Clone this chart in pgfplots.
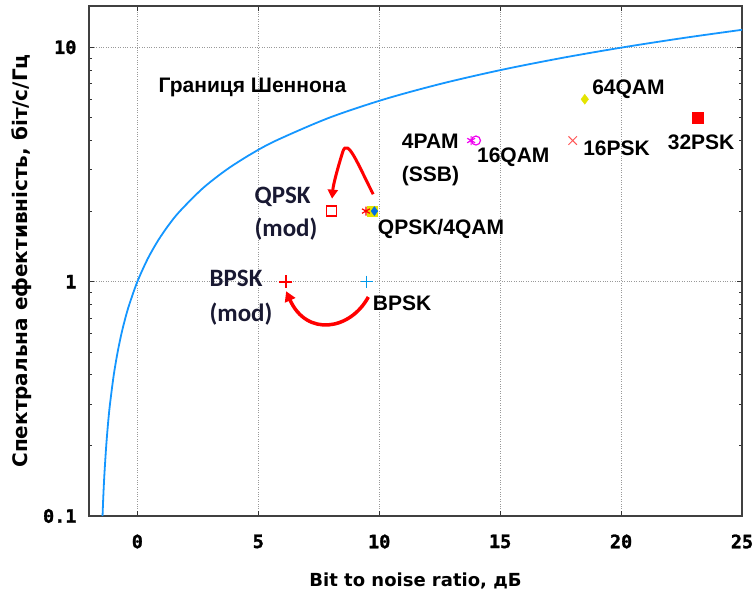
\documentclass[border=0pt]{standalone}
\usepackage{pgfplots}
\pgfplotsset{compat=1.18}
\usepackage{fontspec}
\setmainfont{Liberation Sans}
\newfontfamily\tickfont{DejaVu Sans Mono Bold}[FakeBold=1.5]
\newfontfamily\labfont{DejaVu Sans}[UprightFont={* Bold}]
\newfontfamily\calfont{Carlito}
\usetikzlibrary{arrows.meta}
\definecolor{shblue}{RGB}{20,150,255}
\definecolor{mred}{RGB}{255,0,0}
\definecolor{lred}{RGB}{255,85,85}
\definecolor{mmag}{RGB}{240,0,240}
\definecolor{myel}{RGB}{228,228,0}
\definecolor{mblue}{RGB}{0,110,225}
\definecolor{navy}{RGB}{25,25,50}
\begin{document}
\begin{tikzpicture}
\begin{axis}[
  scale only axis, width=653pt, height=510pt,
  xmin=-2, xmax=25, ymode=log, ymin=0.1, ymax=15,
  xtick={0,5,10,15,20,25}, ytick={0.1,1,10},
  xticklabels={\tickfont 0,\tickfont 5,\tickfont 10,\tickfont 15,\tickfont 20,\tickfont 25},
  yticklabels={\tickfont 0.1,\tickfont 1,\tickfont 10},
  tick label style={font=\fontsize{18.5}{18.5}\tickfont},
  xticklabel style={yshift=-15pt},
  yticklabel style={xshift=-9pt},
  grid=major, major grid style={dotted, gray!80, line width=1pt},
  axis line style={line width=1.3pt, black!75},
  major tick length=5pt, minor tick length=3pt,
  tick style={black!80, line width=0.8pt},
  xlabel={Bit to noise ratio, дБ},
  ylabel={Спектральна ефективність, біт/с/Гц},
  xlabel style={font=\fontsize{18}{18}\labfont, yshift=-17pt},
  ylabel style={font=\fontsize{20}{20}\labfont, yshift=5pt},
  clip=true,
]
\coordinate (ll) at (rel axis cs:0,0);
\coordinate (ur) at (rel axis cs:1,1);
% Shannon bound
\addplot[shblue, line width=1.8pt, smooth] coordinates {
(-1.44,0.1)(-1.410,0.12)(-1.364,0.15)(-1.287,0.2)(-1.210,0.25)(-1.133,0.3)
(-0.976,0.4)(-0.817,0.5)(-0.658,0.6)(-0.496,0.7)(-0.332,0.8)(0,1)
(0.425,1.25)(0.860,1.5)(1.305,1.75)(1.761,2)(2.701,2.5)(3.680,3)(4.693,3.5)
(5.740,4)(7.924,5)(10.212,6)(12.587,7)(15.034,8)(17.542,9)(20.099,10)
(22.697,11)(25.331,12)};
% points
\addplot[only marks, mark=diamond*, mark size=5pt, color=myel] coordinates {(18.5,6.0)};
\addplot[only marks, mark=square*, mark size=5.5pt, color=mred] coordinates {(23.15,5.0)};
\addplot[only marks, mark=x, mark size=6pt, color=lred, line width=1pt] coordinates {(18.0,4.0)};
\addplot[only marks, mark=o, mark size=4.5pt, color=mmag, line width=1.2pt] coordinates {(14.0,4.0)};
\addplot[only marks, mark=asterisk, mark size=4.5pt, color=mmag, line width=1.2pt] coordinates {(13.8,4.0)};
\addplot[only marks, mark=square*, mark size=5pt, color=myel] coordinates {(9.7,2.0)};
\addplot[only marks, mark=asterisk, mark size=4.5pt, color=mred, line width=1.2pt] coordinates {(9.45,2.0)};
\addplot[only marks, mark=diamond*, mark size=4.5pt, color=mblue] coordinates {(9.8,2.0)};
\addplot[only marks, mark=square, mark size=5pt, color=mred, line width=1.5pt] coordinates {(8.03,2.0)};
\addplot[only marks, mark=+, mark size=6pt, color=mblue!70!cyan, line width=1.3pt] coordinates {(9.48,1.0)};
\addplot[only marks, mark=+, mark size=6.5pt, color=mred, line width=2.2pt] coordinates {(6.13,1.0)};
% arrows
\draw[mred, line width=3pt, -{Triangle[length=9pt,width=10pt]}]
  (axis cs:9.75,2.36) .. controls (axis cs:9.1,3.2) and (axis cs:8.7,4.1) .. (axis cs:8.5,3.6)
  .. controls (axis cs:8.3,3.1) and (axis cs:8.1,2.6) .. (axis cs:8.05,2.26);
\draw[mred, line width=3.5pt, -{Triangle[length=10pt,width=11pt]}]
  (axis cs:9.55,0.86) .. controls (axis cs:8.8,0.62) and (axis cs:7.0,0.58) .. (axis cs:6.15,0.91);
% labels
\path[font=\fontsize{21}{21}\selectfont\bfseries, text=black]
  (axis cs:4.76,6.75) node {Границя Шеннона}
  (axis cs:18.8,6.6) node[anchor=west, inner sep=0pt] {64QAM}
  (axis cs:23.31,3.93) node[inner sep=0pt] {32PSK}
  (axis cs:18.43,3.70) node[anchor=west, inner sep=0pt] {16PSK}
  (axis cs:14.04,3.39) node[anchor=west, inner sep=0pt] {16QAM}
  (axis cs:10.93,3.96) node[anchor=west, inner sep=0pt] {4PAM}
  (axis cs:10.93,2.81) node[anchor=west, inner sep=0pt] {(SSB)}
  (axis cs:9.94,1.67) node[anchor=west, inner sep=0pt] {QPSK/4QAM}
  (axis cs:9.73,0.805) node[anchor=west, inner sep=0pt] {BPSK};
\path[font=\fontsize{25}{25}\calfont\bfseries, text=navy]
  (axis cs:4.84,2.31) node[anchor=west, inner sep=0pt] {QPSK}
  (axis cs:4.84,1.67) node[anchor=west, inner sep=0pt] {(mod)}
  (axis cs:2.98,1.03) node[anchor=west, inner sep=0pt] {BPSK}
  (axis cs:2.98,0.730) node[anchor=west, inner sep=0pt] {(mod)};
\end{axis}
\pgfresetboundingbox
\path ([xshift=-89pt,yshift=-80pt]ll) rectangle ([xshift=12pt,yshift=6pt]ur);
\end{tikzpicture}
\end{document}
